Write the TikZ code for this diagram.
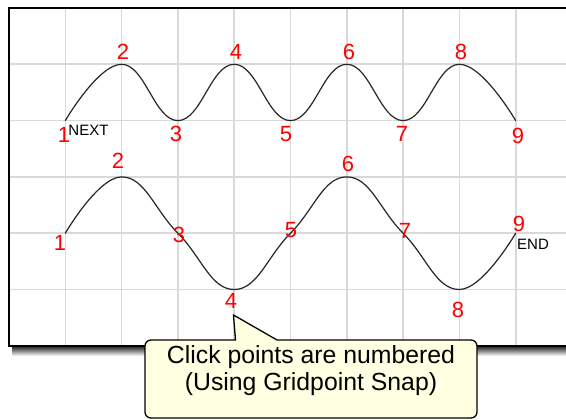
\documentclass[tikz,border=0pt]{standalone}
\usepackage{fontspec}
\setmainfont{Liberation Sans}
\definecolor{gridgray}{RGB}{217,217,217}
\definecolor{tipyellow}{RGB}{255,255,225}
\definecolor{numred}{RGB}{255,0,0}
\tikzset{
  gridline/.style={draw=gridgray, line width=1.6pt},
  wave/.style={draw=black!85, line width=1.2pt, line cap=round, line join=round},
  clicknum/.style={text=numred, inner sep=0pt, anchor=center, font=\fontsize{22}{26}\selectfont},
  endtag/.style={text=black, inner sep=0pt, anchor=center, font=\fontsize{15}{18}\selectfont},
  callout/.style={draw=black, fill=tipyellow, line width=1.3pt, line join=miter},
  notetext/.style={inner sep=0pt, align=center, font=\fontsize{24.8}{27}\selectfont}
}
\begin{document}
\begin{tikzpicture}[x=1pt, y=-1pt]

  %% ════ background / canvas ════
  \fill[white] (0,0) rectangle (566,420);

  %% ════ frame shadow ════
  \shade[top color=black!80, bottom color=white] (12,347) rectangle (566,356);

  %% ════ grid lines (step 56.3) ════
  \draw[gridline] (65.3,8) -- (65.3,346);
  \draw[gridline] (121.6,8) -- (121.6,346);
  \draw[gridline] (177.9,8) -- (177.9,346);
  \draw[gridline] (234.2,8) -- (234.2,346);
  \draw[gridline] (290.5,8) -- (290.5,346);
  \draw[gridline] (346.8,8) -- (346.8,346);
  \draw[gridline] (403.1,8) -- (403.1,346);
  \draw[gridline] (459.4,8) -- (459.4,346);
  \draw[gridline] (515.7,8) -- (515.7,346);
  \draw[gridline] (9,64.3) -- (566,64.3);
  \draw[gridline] (9,120.6) -- (566,120.6);
  \draw[gridline] (9,176.9) -- (566,176.9);
  \draw[gridline] (9,233.2) -- (566,233.2);
  \draw[gridline] (9,289.5) -- (566,289.5);

  %% ════ frame (right edge lies outside the canvas) ════
  \draw[line width=2pt] (566,8) -- (9,8) -- (9,346) -- (566,346);

  %% ════ click points ════
  \coordinate (t1) at (65.3,120.6);
  \coordinate (t2) at (121.6,64.3);
  \coordinate (t3) at (177.9,120.6);
  \coordinate (t4) at (234.2,64.3);
  \coordinate (t5) at (290.5,120.6);
  \coordinate (t6) at (346.8,64.3);
  \coordinate (t7) at (403.1,120.6);
  \coordinate (t8) at (459.4,64.3);
  \coordinate (t9) at (515.7,120.6);

  \coordinate (b1) at (65.3,233.2);
  \coordinate (b2) at (121.6,176.9);
  \coordinate (b3) at (177.9,233.2);
  \coordinate (b4) at (234.2,289.5);
  \coordinate (b5) at (290.5,233.2);
  \coordinate (b6) at (346.8,176.9);
  \coordinate (b7) at (403.1,233.2);
  \coordinate (b8) at (459.4,289.5);
  \coordinate (b9) at (515.7,233.2);

  %% ════ the two curves ════
  \draw[wave] plot[smooth, tension=0.75] coordinates {(t1) (t2) (t3) (t4) (t5) (t6) (t7) (t8) (t9)};
  \draw[wave] plot[smooth, tension=0.75] coordinates {(b1) (b2) (b3) (b4) (b5) (b6) (b7) (b8) (b9)};

  %% ════ numbers, upper curve ════
  \node[clicknum] (tn1) at (64,135) {1};
  \node[clicknum] (tn2) at (123,52) {2};
  \node[clicknum] (tn3) at (176,134) {3};
  \node[clicknum] (tn4) at (236,52) {4};
  \node[clicknum] (tn5) at (286,134) {5};
  \node[clicknum] (tn6) at (349,52) {6};
  \node[clicknum] (tn7) at (402,134) {7};
  \node[clicknum] (tn8) at (461,52) {8};
  \node[clicknum] (tn9) at (518,136) {9};
  \node[endtag] (next) at (88.5,130.5) {NEXT};

  %% ════ numbers, lower curve ════
  \node[clicknum] (bn1) at (60,243) {1};
  \node[clicknum] (bn2) at (118,161) {2};
  \node[clicknum] (bn3) at (179,235) {3};
  \node[clicknum] (bn4) at (231,301) {4};
  \node[clicknum] (bn5) at (291,230) {5};
  \node[clicknum] (bn6) at (348,164) {6};
  \node[clicknum] (bn7) at (405,231) {7};
  \node[clicknum] (bn8) at (458,310) {8};
  \node[clicknum] (bn9) at (519,224) {9};
  \node[endtag] (end) at (533,244) {END};

  %% ════ callout ════
  \coordinate (tip) at (233.5,315);
  \draw[callout] (tip) -- (235.5,340) [rounded corners=6pt] -- (145,340) -- (145,418)
     -- (477,418) -- (477,340) [sharp corners] -- (277,340) -- cycle;
  \node[notetext] (note) at (311,371) {Click points are numbered\\(Using Gridpoint Snap)};

  % fix the canvas
  \pgfresetboundingbox
  \path[use as bounding box] (0,0) rectangle (566,420);
\end{tikzpicture}
\end{document}
